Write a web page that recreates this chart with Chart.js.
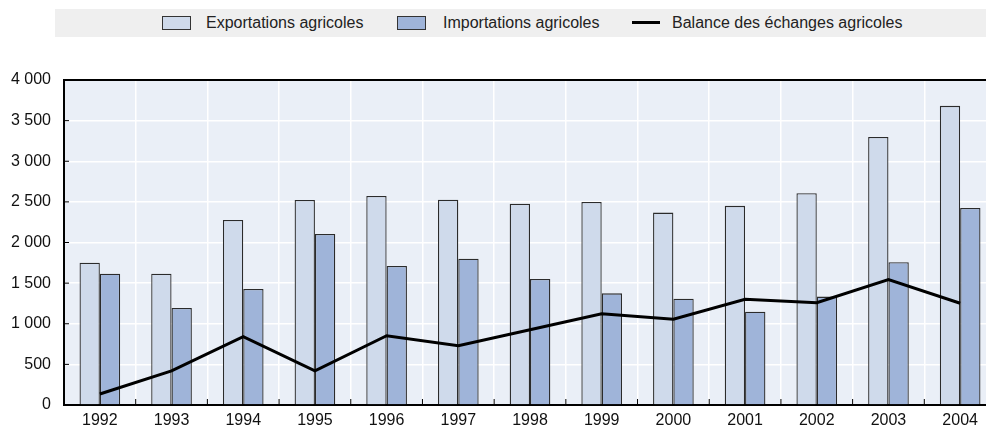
<!DOCTYPE html>
<html>
<head>
<meta charset="utf-8">
<script src="https://cdn.jsdelivr.net/npm/chart.js@4"></script>
<style>
  html, body { margin: 0; padding: 0; background: #fff; overflow: hidden; }
  #wrap { position: relative; width: 986px; height: 432px; overflow: hidden; }
  #chart { position: absolute; left: 0; top: 0; }
  .legend { position: absolute; left: 55px; top: 9px; width: 931px; height: 28px; background: #efefef;
            font-family: "Liberation Sans Narrow", "Arial Narrow", "Liberation Sans", sans-serif; font-size: 16px; color: #222; }
  .legend .item { position: absolute; top: 0; height: 28px; line-height: 28px; white-space: nowrap; }
  .legend .box { position: absolute; width: 27px; height: 12px; border: 1px solid #333; top: 7px; }
  .legend .line { position: absolute; width: 28px; height: 3px; background: #000; top: 12px; }
  .legend .txt { position: absolute; top: 0; }
</style>
</head>
<body>
<div id="wrap">
  <canvas id="chart" width="996" height="432"></canvas>
  <div class="legend" id="legend"></div>
</div>
<script>
// Agricultural trade, in millions
const years = ['1992', '1993', '1994', '1995', '1996', '1997', '1998', '1999', '2000', '2001', '2002', '2003', '2004'];
const exportsAgri = [1750, 1615, 2278, 2524, 2572, 2527, 2478, 2498, 2368, 2451, 2607, 3300, 3682];
const importsAgri = [1616, 1195, 1428, 2105, 1711, 1801, 1551, 1374, 1309, 1149, 1334, 1757, 2426];
const balanceAgri = [135, 419, 841, 419, 853, 730, 927, 1124, 1055, 1302, 1260, 1543, 1252];
const seriesNames = ['Exportations agricoles', 'Importations agricoles', 'Balance des échanges agricoles'];

const FONT = '"Liberation Sans Narrow", "Arial Narrow", "Liberation Sans", sans-serif';
const EXPORT_COLOR = '#cfdaeb';
const IMPORT_COLOR = '#9fb4d9';

// html legend
const legend = document.getElementById('legend');
legend.innerHTML = `
  <div class="item" style="left:107px"><div class="box" style="left:0;background:${EXPORT_COLOR}"></div><span class="txt" style="left:44px">${seriesNames[0]}</span></div>
  <div class="item" style="left:342px"><div class="box" style="left:0;background:${IMPORT_COLOR}"></div><span class="txt" style="left:46px">${seriesNames[1]}</span></div>
  <div class="item" style="left:577px"><div class="line" style="left:0"></div><span class="txt" style="left:40px">${seriesNames[2]}</span></div>`;

const formatThousands = v => String(v).replace(/\B(?=(\d{3})+(?!\d))/g, ' ');

const frame = {
    id: 'frame',
    beforeDatasetsDraw(chart) {
        const { ctx, chartArea, scales } = chart;
        ctx.save();
        ctx.strokeStyle = '#000';
        ctx.lineWidth = 1;
        // small y ticks inside plot
        scales.y.ticks.forEach((t, i) => {
            const y = scales.y.getPixelForTick(i);
            ctx.beginPath();
            ctx.moveTo(chartArea.left, y);
            ctx.lineTo(chartArea.left + 5, y);
            ctx.stroke();
        });
        // small x ticks at category boundaries
        const half = (scales.x.getPixelForValue(1) - scales.x.getPixelForValue(0)) / 2;
        years.forEach((y, i) => {
            if (i === 0) return;
            const x = scales.x.getPixelForValue(i) - half;
            ctx.beginPath();
            ctx.moveTo(x, chartArea.bottom);
            ctx.lineTo(x, chartArea.bottom - 6);
            ctx.stroke();
        });
        ctx.restore();
    },
    afterDraw(chart) {
        const { ctx, chartArea } = chart;
        ctx.save();
        ctx.strokeStyle = '#000';
        ctx.lineWidth = 2;
        ctx.beginPath();
        ctx.moveTo(chartArea.left - 1, chartArea.top);
        ctx.lineTo(chartArea.right, chartArea.top);
        ctx.stroke();
        ctx.restore();
    }
};

const plotBg = {
    id: 'plotBg',
    beforeDraw(chart) {
        const { ctx, chartArea } = chart;
        ctx.save();
        ctx.fillStyle = '#eaeff7';
        ctx.fillRect(chartArea.left, chartArea.top, chartArea.right - chartArea.left, chartArea.bottom - chartArea.top);
        ctx.restore();
    }
};

new Chart(document.getElementById('chart'), {
    type: 'bar',
    data: {
        labels: years,
        datasets: [
            {
                type: 'line',
                label: seriesNames[2],
                data: balanceAgri,
                borderColor: '#000',
                borderWidth: 3,
                pointRadius: 0,
                tension: 0,
                fill: false,
                order: 0
            },
            {
                label: seriesNames[0],
                data: exportsAgri,
                backgroundColor: EXPORT_COLOR,
                borderColor: '#2b2b2b',
                borderWidth: 1.3,
                order: 1
            },
            {
                label: seriesNames[1],
                data: importsAgri,
                backgroundColor: IMPORT_COLOR,
                borderColor: '#2b2b2b',
                borderWidth: 1.3,
                order: 1
            }
        ]
    },
    options: {
        responsive: false,
        animation: false,
        layout: { padding: { top: 80, right: 0, bottom: 0, left: 0 } },
        datasets: {
            bar: { categoryPercentage: 0.567, barPercentage: 1.0 }
        },
        scales: {
            x: {
                offset: true,
                grid: { offset: true, color: '#ffffff', lineWidth: 1.5, drawTicks: false },
                border: { display: true, color: '#000', width: 2 },
                ticks: { color: '#111', font: { family: FONT, size: 16 }, padding: 6, maxRotation: 0, autoSkip: false },
                afterFit: scale => { scale.height = 27; }
            },
            y: {
                min: 0,
                max: 4000,
                grid: { color: '#ffffff', lineWidth: 1.5, drawTicks: false },
                border: { display: true, color: '#000', width: 2 },
                ticks: {
                    stepSize: 500,
                    color: '#111',
                    font: { family: FONT, size: 16 },
                    padding: 13,
                    callback: v => formatThousands(v)
                },
                afterFit: scale => { scale.width = 64; }
            }
        },
        plugins: {
            legend: { display: false },
            tooltip: { enabled: false }
        }
    },
    plugins: [plotBg, frame]
});
</script>
</body>
</html>
